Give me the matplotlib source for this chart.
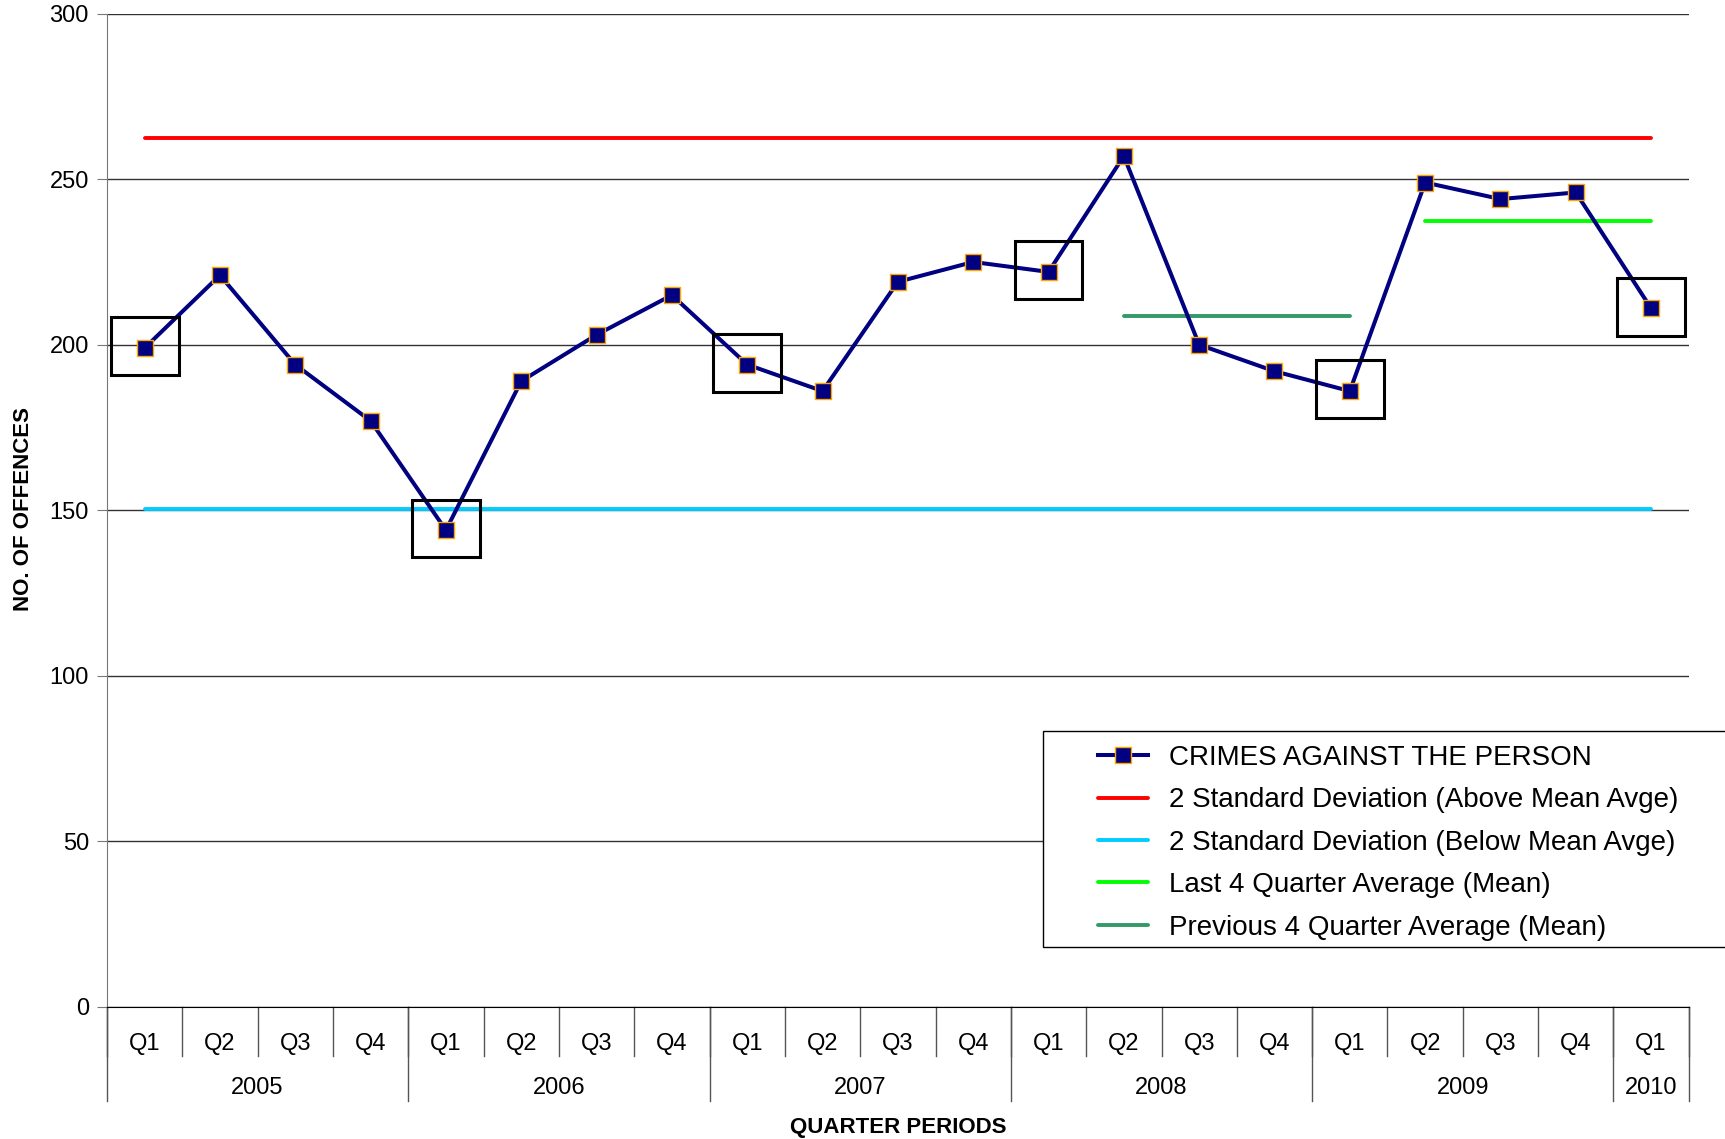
import numpy as np
import matplotlib
matplotlib.use("Agg")
import matplotlib.pyplot as plt
from matplotlib.patches import Rectangle
from matplotlib.transforms import blended_transform_factory

plt.rcParams["font.family"] = ["Liberation Sans", "DejaVu Sans"]

# Data
quarters = ["Q1", "Q2", "Q3", "Q4"] * 5 + ["Q1"]
years = ["2005", "2006", "2007", "2008", "2009", "2010"]
year_len = [4, 4, 4, 4, 4, 1]
crimes = [199, 221, 194, 177, 144, 189, 203, 215, 194, 186, 219, 225,
          222, 257, 200, 192, 186, 249, 244, 246, 211]
sd_above = 262.5
sd_below = 150.5
last4_mean = 237.5
prev4_mean = 208.75
prev4_idx = [13, 16]   # 2008 Q2 .. 2009 Q1
last4_idx = [17, 20]   # 2009 Q2 .. 2010 Q1
boxed_idx = [0, 4, 8, 12, 16, 20]

x = np.arange(len(crimes))

fig = plt.figure(figsize=(17.25, 11.39), dpi=100)
ax = fig.add_axes([0.062, 0.116, 0.917, 0.872])

ax.set_xlim(-0.5, len(crimes) - 0.5)
ax.set_ylim(0, 300)
ax.set_yticks(np.arange(0, 301, 50))
ax.yaxis.grid(True, color="#333333", lw=1.0)
ax.set_axisbelow(True)
for s in ["top", "right"]:
    ax.spines[s].set_visible(False)
ax.spines["left"].set_color("#777777")
ax.spines["bottom"].set_color("black")
ax.tick_params(axis="y", labelsize=17, length=7, pad=6, color="#777777")
ax.tick_params(axis="x", bottom=False, labelbottom=False)

# reference lines
ax.plot([x[0], x[-1]], [sd_above] * 2, color="#FF0000", lw=2.8,
        solid_capstyle="round", label="2 Standard Deviation (Above Mean Avge)", zorder=2)
ax.plot([x[0], x[-1]], [sd_below] * 2, color="#00CCFF", lw=2.8,
        solid_capstyle="round", label="2 Standard Deviation (Below Mean Avge)", zorder=2)
ax.plot(last4_idx, [last4_mean] * 2, color="#00FF00", lw=2.8,
        solid_capstyle="round", label="Last 4 Quarter Average (Mean)", zorder=2)
ax.plot(prev4_idx, [prev4_mean] * 2, color="#339966", lw=2.8,
        solid_capstyle="round", label="Previous 4 Quarter Average (Mean)", zorder=2)

# main series
ax.plot(x, crimes, color="#000080", lw=2.9, marker="s", markersize=11,
        markerfacecolor="#000080", markeredgecolor="#FFA500", markeredgewidth=1.0,
        label="CRIMES AGAINST THE PERSON", zorder=4)

# highlight boxes
bw, bh = 0.9, 17.5
for i in boxed_idx:
    ax.add_patch(Rectangle((x[i] - bw / 2, crimes[i] - bh / 2 + 0.5), bw, bh,
                           fill=False, edgecolor="black", lw=2.2, zorder=5))

# two-level category axis
tr = blended_transform_factory(ax.transData, ax.transAxes)
for i, q in enumerate(quarters):
    ax.text(x[i], -0.037, q, transform=tr, ha="center", va="center", fontsize=17)
for b in np.arange(-0.5, len(crimes), 1.0):
    ax.plot([b, b], [0, -0.049], transform=tr, color="#555555", lw=1, clip_on=False)
start = 0
for yr, n in zip(years, year_len):
    ax.text(start + (n - 1) / 2, -0.082, yr, transform=tr, ha="center", va="center",
            fontsize=17)
    start += n
edges = np.concatenate([[0], np.cumsum(year_len)]) - 0.5
for b in edges:
    ax.plot([b, b], [0, -0.095], transform=tr, color="#555555", lw=1, clip_on=False)

ax.text(0.5, -0.121, "QUARTER PERIODS", transform=ax.transAxes, ha="center",
        va="center", fontsize=16, fontweight="bold")
fig.text(0.0135, 0.553, "NO. OF OFFENCES", rotation=90, ha="center", va="center",
         fontsize=16, fontweight="bold")

# legend with separate frame running off the right edge
handles, labels = ax.get_legend_handles_labels()
order = [4, 0, 1, 2, 3]
leg = fig.legend([handles[k] for k in order], [labels[k] for k in order],
                 loc="upper left", bbox_to_anchor=(1098 / 1725, 1 - 745 / 1139),
                 frameon=False, fontsize=20, borderpad=0, borderaxespad=0,
                 handlelength=1.8, handletextpad=0.75, labelspacing=0.59)
fig.patches.append(Rectangle((1043 / 1725, 1 - 947 / 1139), 0.5, 216 / 1139,
                             transform=fig.transFigure, fill=True, facecolor="white",
                             edgecolor="black", lw=1.0, zorder=5))
leg.set_zorder(10)

fig.savefig("out.png", dpi=100)
